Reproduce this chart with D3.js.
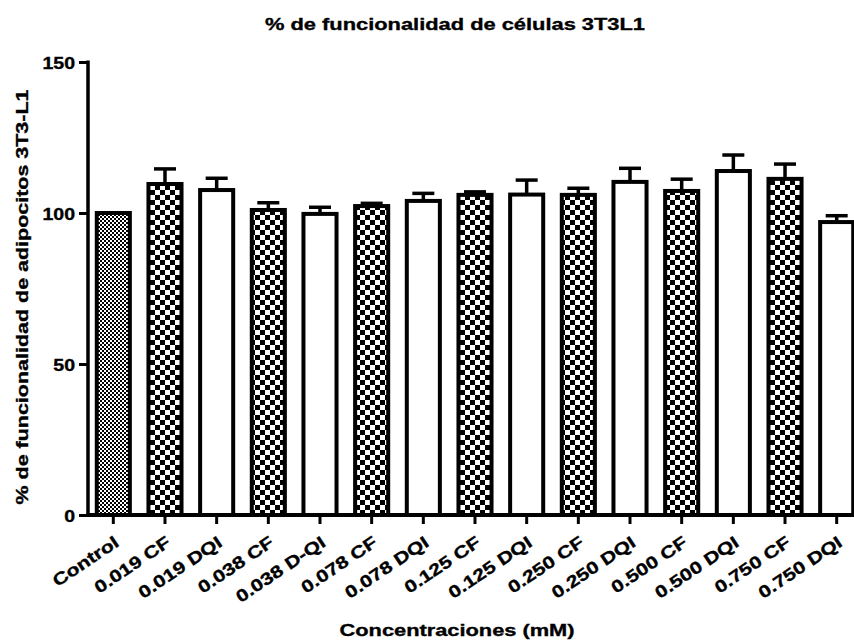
<!DOCTYPE html>
<html>
<head>
<meta charset="utf-8">
<script src="https://cdn.jsdelivr.net/npm/d3@7"></script>
<style>
  body { margin: 0; background: #fff; }
  text { font-family: "Liberation Sans", Arial, sans-serif; font-weight: bold; fill: #000; stroke: #000; stroke-width: 0.35px; }
</style>
</head>
<body>
<svg id="chart" width="854" height="644"></svg>
<script>
// Treatments (mM) along the x axis
const categories = ["Control", "0.019 CF", "0.019 DQI", "0.038 CF", "0.038 D-QI",
  "0.078 CF", "0.078 DQI", "0.125 CF", "0.125 DQI", "0.250 CF", "0.250 DQI",
  "0.500 CF", "0.500 DQI", "0.750 CF", "0.750 DQI"];
// Mean functionality (%) and upper error
const means = [100, 109.6, 107.6, 101.0, 99.7, 102.3, 104.0, 106.0, 106.1, 106.0,
  110.3, 107.3, 113.9, 111.3, 97.0];
const errors = [0, 5.0, 3.9, 2.4, 2.2, 0.9, 2.5, 1.0, 4.8, 2.2, 4.5, 3.9, 5.3, 4.9, 2.1];
// Fill style per bar: control, CF (checker) or DQI (plain)
const fillKinds = ["control", "cf", "dqi", "cf", "dqi", "cf", "dqi", "cf", "dqi",
  "cf", "dqi", "cf", "dqi", "cf", "dqi"];
const yTicks = [0, 50, 100, 150];

const title = "% de funcionalidad de células 3T3L1";
const yLabel = "% de funcionalidad de adipocitos 3T3-L1";
const xLabel = "Concentraciones (mM)";

const svg = d3.select("#chart");
const data = categories.map((c, i) => ({ cat: c, mean: means[i], err: errors[i], kind: fillKinds[i] }));

const y = d3.scaleLinear().domain([0, 150]).range([515, 62]);
const x = d3.scaleBand().domain(categories).range([88, 862]).paddingInner(0.36).paddingOuter(0.17);

// checker fills
const defs = svg.append("defs");
function checker(id, s) {
  const p = defs.append("pattern").attr("id", id).attr("patternUnits", "userSpaceOnUse")
    .attr("width", 2 * s).attr("height", 2 * s);
  p.append("rect").attr("width", 2 * s).attr("height", 2 * s).attr("fill", "#fff");
  p.append("rect").attr("width", s).attr("height", s).attr("fill", "#000");
  p.append("rect").attr("x", s).attr("y", s).attr("width", s).attr("height", s).attr("fill", "#000");
}
checker("fineCheck", 2);
checker("coarseCheck", 5);
const fillFor = { control: "url(#fineCheck)", cf: "url(#coarseCheck)", dqi: "#fff" };

// error bars (upper only)
const eb = svg.append("g").attr("stroke", "#000").attr("stroke-width", 3.5);
data.filter(d => d.err > 0).forEach(d => {
  const cx = x(d.cat) + x.bandwidth() / 2;
  eb.append("line").attr("x1", cx).attr("x2", cx).attr("y1", y(d.mean)).attr("y2", y(d.mean + d.err));
  eb.append("line").attr("x1", cx - 11).attr("x2", cx + 11).attr("y1", y(d.mean + d.err)).attr("y2", y(d.mean + d.err));
});

// bars
svg.append("g").selectAll("rect").data(data).join("rect")
  .attr("x", d => x(d.cat))
  .attr("width", x.bandwidth())
  .attr("y", d => y(d.mean))
  .attr("height", d => y(0) - y(d.mean))
  .attr("fill", d => fillFor[d.kind])
  .attr("stroke", "#000")
  .attr("stroke-width", 4);

// y axis
const yAxis = svg.append("g").attr("transform", "translate(88,0)")
  .call(d3.axisLeft(y).tickValues(yTicks).tickSize(9).tickPadding(4));
yAxis.select(".domain").remove();
yAxis.selectAll(".tick line").attr("stroke", "#000").attr("stroke-width", 3);
yAxis.selectAll(".tick text").attr("font-size", 17).attr("dy", "0.36em")
  .attr("transform", "translate(-13,0) scale(1.15,1) translate(13,0)");
svg.append("line").attr("x1", 88).attr("x2", 88).attr("y1", 60.5).attr("y2", 517)
  .attr("stroke", "#000").attr("stroke-width", 3.5);

// x axis with slanted category labels
const xAxis = svg.append("g").attr("transform", "translate(0,515)")
  .call(d3.axisBottom(x).tickSize(9));
xAxis.select(".domain").remove();
xAxis.selectAll(".tick line").attr("stroke", "#000").attr("stroke-width", 3);
const ang = 34, labelSize = 17, capH = 0.716 * labelSize, stretch = 1.25;
const rad = ang * Math.PI / 180;
const ax = capH * Math.sin(rad), ay = 20 + capH * Math.cos(rad);
xAxis.selectAll(".tick text")
  .attr("font-size", labelSize)
  .attr("text-anchor", "end")
  .attr("x", null).attr("y", null).attr("dy", null)
  .attr("transform", `translate(${ax},${ay}) rotate(${-ang}) scale(${stretch},1)`);
svg.append("line").attr("x1", 86.3).attr("x2", 852).attr("y1", 515).attr("y2", 515)
  .attr("stroke", "#000").attr("stroke-width", 4);

// titles
svg.append("text").attr("x", 455).attr("y", 30).attr("text-anchor", "middle")
  .attr("font-size", 17).attr("textLength", 380).attr("lengthAdjust", "spacingAndGlyphs").text(title);
svg.append("text").attr("transform", "translate(28,297) rotate(-90)").attr("text-anchor", "middle")
  .attr("font-size", 17).attr("textLength", 415).attr("lengthAdjust", "spacingAndGlyphs").text(yLabel);
svg.append("text").attr("x", 457).attr("y", 636).attr("text-anchor", "middle")
  .attr("font-size", 17).attr("textLength", 235).attr("lengthAdjust", "spacingAndGlyphs").text(xLabel);
</script>
</body>
</html>
